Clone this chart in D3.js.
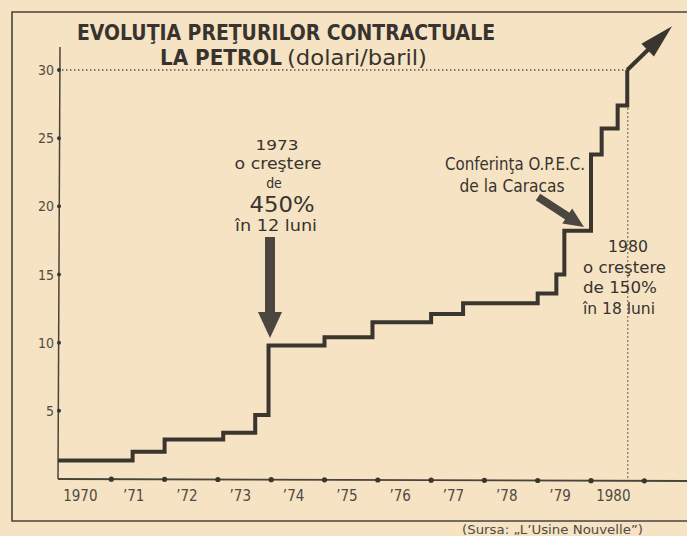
<!DOCTYPE html>
<html>
<head>
<meta charset="utf-8">
<title>evolutia preturilor la petrol</title>
<script src="https://cdn.jsdelivr.net/npm/d3@7"></script>
<style>
  body { margin: 0; background: #f5e3c4; }
  svg { display: block; }
  text { font-family: "DejaVu Sans Condensed", "DejaVu Sans", sans-serif; font-stretch: condensed; fill: #38332e; }
</style>
</head>
<body>
<div id="graphDiv"></div>
<script>
var width = 687,
    height = 536;

// anul (fractional) de la care e valabil pretul, si pretul (dolari/baril)
var stepYears  = [1970, 1971.4, 1972.0, 1973.1, 1973.7, 1973.95, 1975.0, 1975.9,
                  1977.0, 1977.6, 1979.0, 1979.35, 1979.5, 1980.0, 1980.2, 1980.5, 1980.68];
var stepPrices = [1.35, 2.0, 2.9, 3.4, 4.7, 9.8, 10.4, 11.5,
                  12.1, 12.9, 13.6, 15.0, 18.2, 23.8, 25.7, 27.4, 30.0];
var yTicks = [5, 10, 15, 20, 25, 30];
var labelYears = [1970, 1971, 1972, 1973, 1974, 1975, 1976, 1977, 1978, 1979, 1980];
var yearLabels = ["1970", "\u201971", "\u201972", "\u201973", "\u201974", "\u201975",
                  "\u201976", "\u201977", "\u201978", "\u201979", "1980"];
var dotYears = [1971, 1972, 1973, 1974, 1975, 1976, 1977, 1978, 1979, 1980, 1981];
var arrowTip = [1981.52, 33.2];   // varful sagetii de la capat

var ink = "#3a352f";

var x = d3.scaleLinear().domain([1970, 1981]).range([58, 644.3]);
var y = d3.scaleLinear().domain([0, 30]).range([479, 70]);

var svg = d3.select("#graphDiv").append("svg")
    .attr("width", width)
    .attr("height", height);

svg.append("rect").attr("width", width).attr("height", height).attr("fill", "#f5e3c4");

// rama
svg.append("path")
    .attr("d", "M687,12 L12,12 L12,521 L687,521")
    .attr("fill", "none")
    .attr("stroke", "#4a443c")
    .attr("stroke-width", 1.6);

// titlu
svg.append("text").attr("x", 77).attr("y", 40)
    .attr("font-size", 21).attr("font-weight", "bold")
    .attr("textLength", 418).attr("lengthAdjust", "spacingAndGlyphs")
    .text("EVOLUŢIA PREŢURILOR CONTRACTUALE");
svg.append("text").attr("x", 160).attr("y", 65)
    .attr("font-size", 21).attr("font-weight", "bold")
    .attr("textLength", 122).attr("lengthAdjust", "spacingAndGlyphs")
    .text("LA PETROL");
svg.append("text").attr("x", 287).attr("y", 65)
    .attr("font-size", 22)
    .attr("textLength", 140).attr("lengthAdjust", "spacingAndGlyphs")
    .text("(dolari/baril)");

// linii punctate
svg.append("line")
    .attr("x1", x(1970)).attr("x2", x(stepYears[stepYears.length - 1]))
    .attr("y1", y(30)).attr("y2", y(30))
    .attr("stroke", "#5e574e").attr("stroke-width", 1.3)
    .attr("stroke-dasharray", "1.5 2.5");
svg.append("line")
    .attr("x1", x(1980.69)).attr("x2", x(1980.69))
    .attr("y1", y(27.2)).attr("y2", y(0))
    .attr("stroke", "#5e574e").attr("stroke-width", 1.3)
    .attr("stroke-dasharray", "1.5 2.5");

// axe
svg.append("line")
    .attr("x1", x(1970) + 2).attr("x2", x(1970))
    .attr("y1", 47).attr("y2", y(0))
    .attr("stroke", "#4a443c").attr("stroke-width", 1.5);
svg.append("line")
    .attr("x1", x(1970)).attr("x2", width)
    .attr("y1", y(0)).attr("y2", y(0) + 2)
    .attr("stroke", "#4a443c").attr("stroke-width", 1.8);

svg.selectAll(".ydot").data(yTicks).enter().append("circle")
    .attr("cx", x(1970) + 1).attr("cy", function(d) { return y(d); })
    .attr("r", 2).attr("fill", ink);
svg.selectAll(".ylab").data(yTicks).enter().append("text")
    .attr("x", x(1970) - 4).attr("y", function(d) { return y(d) + 5; })
    .attr("text-anchor", "end").attr("font-size", 14).style("fill", "#514a42")
    .text(function(d) { return d; });

svg.selectAll(".xdot").data(dotYears).enter().append("circle")
    .attr("cx", function(d) { return x(d); })
    .attr("cy", function(d) { return y(0) + (x(d) - x(1970)) / 315; })
    .attr("r", 2.6).attr("fill", ink);
svg.selectAll(".xlab").data(labelYears).enter().append("text")
    .attr("x", function(d) { return x(d + 0.42); })
    .attr("y", 501)
    .attr("text-anchor", "middle").attr("font-size", 15).style("fill", "#514a42")
    .text(function(d, i) { return yearLabels[i]; });

// linia in trepte
var pts = stepYears.map(function(t, i) { return [x(t), y(stepPrices[i])]; });
svg.append("path")
    .attr("d", d3.line().curve(d3.curveStepAfter)(pts))
    .attr("fill", "none")
    .attr("stroke", ink)
    .attr("stroke-width", 4)
    .attr("stroke-linejoin", "miter");

function arrow(x1, y1, x2, y2, shaftW, headLen, headW, col) {
    var dx = x2 - x1, dy = y2 - y1, len = Math.sqrt(dx * dx + dy * dy);
    var ux = dx / len, uy = dy / len, px = -uy, py = ux;
    var bx = x2 - ux * headLen, by = y2 - uy * headLen;
    svg.append("line")
        .attr("x1", x1).attr("y1", y1).attr("x2", bx + ux * 2).attr("y2", by + uy * 2)
        .attr("stroke", col).attr("stroke-width", shaftW);
    svg.append("path")
        .attr("d", "M" + x2 + "," + y2 +
                   "L" + (bx + px * headW) + "," + (by + py * headW) +
                   "L" + (bx - px * headW) + "," + (by - py * headW) + "Z")
        .attr("fill", col);
}

var last = pts[pts.length - 1];
arrow(last[0], last[1], x(arrowTip[0]), y(arrowTip[1]), 4, 34, 9, ink);

// adnotarea 1973
arrow(270, 237, 270, 338, 10, 26, 12, "#4b4640");
var ann73 = svg.append("g").attr("text-anchor", "middle");
ann73.append("text").attr("x", 277).attr("y", 150).attr("font-size", 14)
    .attr("textLength", 43).attr("lengthAdjust", "spacingAndGlyphs").text("1973");
ann73.append("text").attr("x", 278).attr("y", 169).attr("font-size", 15)
    .attr("textLength", 87).attr("lengthAdjust", "spacingAndGlyphs").text("o creştere");
ann73.append("text").attr("x", 274).attr("y", 188).attr("font-size", 14)
    .text("de");
ann73.append("text").attr("x", 282).attr("y", 212).attr("font-size", 22)
    .attr("textLength", 65).attr("lengthAdjust", "spacingAndGlyphs").text("450%");
ann73.append("text").attr("x", 276).attr("y", 231).attr("font-size", 16)
    .attr("textLength", 82).attr("lengthAdjust", "spacingAndGlyphs").text("în 12 luni");

// adnotarea Caracas
arrow(538, 197, 584, 227, 8, 20, 9, "#4b4640");
var annC = svg.append("g").attr("text-anchor", "middle");
annC.append("text").attr("x", 515).attr("y", 170).attr("font-size", 17)
    .attr("textLength", 140).attr("lengthAdjust", "spacingAndGlyphs").text("Conferinţa O.P.E.C.");
annC.append("text").attr("x", 512).attr("y", 192).attr("font-size", 17)
    .attr("textLength", 105).attr("lengthAdjust", "spacingAndGlyphs").text("de la Caracas");

// adnotarea 1980
svg.append("text").attr("x", 628).attr("y", 252).attr("font-size", 16)
    .attr("text-anchor", "middle")
    .attr("textLength", 40).attr("lengthAdjust", "spacingAndGlyphs").text("1980");
svg.append("text").attr("x", 583).attr("y", 273).attr("font-size", 16)
    .attr("textLength", 83).attr("lengthAdjust", "spacingAndGlyphs").text("o creştere");
svg.append("text").attr("x", 583).attr("y", 293).attr("font-size", 16)
    .attr("textLength", 74).attr("lengthAdjust", "spacingAndGlyphs").text("de 150%");
svg.append("text").attr("x", 583).attr("y", 314).attr("font-size", 16)
    .attr("textLength", 72).attr("lengthAdjust", "spacingAndGlyphs").text("în 18 luni");

// sursa
svg.append("text").attr("x", 462).attr("y", 534).attr("font-size", 13)
    .style("fill", "#514a42")
    .attr("textLength", 181).attr("lengthAdjust", "spacingAndGlyphs")
    .text("(Sursa: „L\u2019Usine Nouvelle”)");
</script>
</body>
</html>
